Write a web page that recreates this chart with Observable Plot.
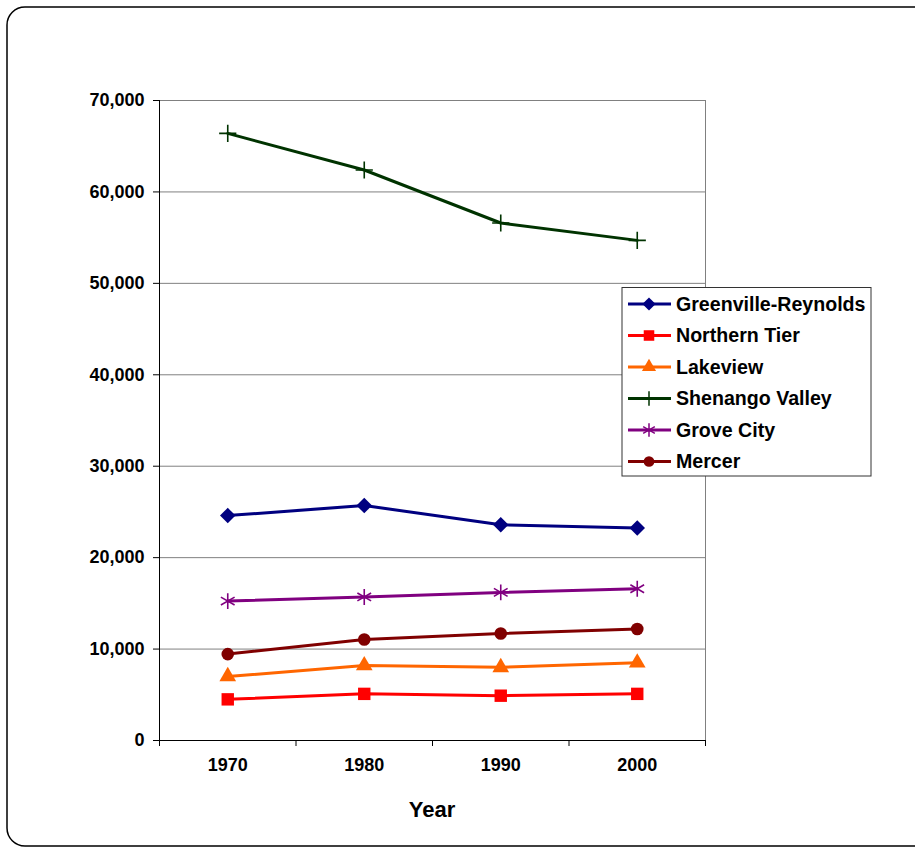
<!DOCTYPE html>
<html><head><meta charset="utf-8">
<script src="https://cdn.jsdelivr.net/npm/d3@7"></script>
<script src="https://cdn.jsdelivr.net/npm/@observablehq/plot@0.6"></script>
<style>body{margin:0;background:#fff;} svg{display:block}</style>
</head><body><div id="chart"></div>
<script>
const years = [1970, 1980, 1990, 2000];
const seriesNames = ["Greenville-Reynolds", "Northern Tier", "Lakeview", "Shenango Valley", "Grove City", "Mercer"];
const greenville = [24600, 25700, 23600, 23250];
const northernTier = [4500, 5100, 4900, 5100];
const lakeview = [7000, 8200, 8000, 8500];
const shenango = [66400, 62400, 56600, 54700];
const groveCity = [15250, 15700, 16200, 16600];
const mercer = [9450, 11050, 11700, 12200];
const yTicks = [0, 10000, 20000, 30000, 40000, 50000, 60000, 70000];
const xBoundaries = [1965, 1975, 1985, 1995, 2005];
const axisTitle = "Year";

const colors = ["#000080", "#FF0000", "#FF6600", "#003300", "#800080", "#800000"];
const symbols = ["diamond2", "square", "triangle", "plus", "asterisk", "circle"];
const radii = [7, 7, 6.2, 5.6, 7.5, 6.3];
const stroked = [false, false, false, true, true, false];
const allValues = [greenville, northernTier, lakeview, shenango, groveCity, mercer];

const font = "'Liberation Sans', Arial, sans-serif";

const marks = [
  Plot.gridY(yTicks, {stroke: "#808080", strokeOpacity: 1}),
  Plot.frame({stroke: "#808080"}),
  Plot.ruleX([1965], {stroke: "black"}),
  Plot.ruleY([0], {stroke: "black"}),
  Plot.axisY({ticks: yTicks, tickFormat: d3.format(","), tickSize: 6, tickPadding: 9, label: null}),
  Plot.axisX({ticks: years, tickFormat: d => String(d), tickSize: 0, tickPadding: 18, label: null}),
  Plot.axisX({ticks: xBoundaries, tickFormat: () => "", tickSize: 6, label: null})
];

allValues.forEach((vals, i) => {
  const data = years.map((y, j) => ({year: y, value: vals[j]}));
  marks.push(Plot.line(data, {x: "year", y: "value", stroke: colors[i], strokeWidth: 3}));
  marks.push(Plot.dot(data, stroked[i]
    ? {x: "year", y: "value", symbol: () => symbols[i], r: radii[i], stroke: colors[i], fill: "none", strokeWidth: 1.6}
    : {x: "year", y: "value", symbol: () => symbols[i], r: radii[i], fill: colors[i], stroke: "none"}));
});

const chart = Plot.plot({
  width: 915, height: 848,
  marginLeft: 159, marginRight: 210, marginTop: 100, marginBottom: 108,
  x: {type: "linear", domain: [1965, 2005]},
  y: {domain: [0, 70000]},
  symbol: {type: "identity"},
  style: {fontFamily: font, fontWeight: "bold", fontSize: "18px", color: "black", background: "white"},
  marks
});

const svg = d3.select(chart);
// outer rounded border
svg.insert("rect", ":first-child")
  .attr("x", 7).attr("y", 7).attr("width", 935).attr("height", 839)
  .attr("rx", 18).attr("fill", "white").attr("stroke", "black").attr("stroke-width", 1.5);

// axis title
svg.append("text").attr("x", 432).attr("y", 817).attr("text-anchor", "middle")
  .attr("font-size", 22).attr("font-weight", "bold").attr("font-family", font).attr("fill", "black")
  .text(axisTitle);

// legend
const lg = svg.append("g").attr("text-anchor", "start");
lg.append("rect").attr("x", 622).attr("y", 287.5).attr("width", 249).attr("height", 188.5)
  .attr("fill", "white").attr("stroke", "#333").attr("stroke-width", 1);
const symMap = {diamond2: d3.symbolDiamond2, square: d3.symbolSquare, triangle: d3.symbolTriangle,
  plus: d3.symbolPlus, asterisk: d3.symbolAsterisk, circle: d3.symbolCircle};
seriesNames.forEach((name, i) => {
  const cy = 304 + i * 31.5;
  lg.append("line").attr("x1", 628).attr("x2", 671).attr("y1", cy).attr("y2", cy)
    .attr("stroke", colors[i]).attr("stroke-width", 3);
  const r = radii[i] * 0.85;
  const p = d3.symbol(symMap[symbols[i]], Math.PI * r * r)();
  const s = lg.append("path").attr("d", p).attr("transform", `translate(649,${cy})`);
  if (stroked[i]) s.attr("fill", "none").attr("stroke", colors[i]).attr("stroke-width", 1.5);
  else s.attr("fill", colors[i]);
  lg.append("text").attr("x", 676).attr("y", cy).attr("dy", "0.35em").attr("text-anchor", "start")
    .attr("font-size", 19.6).attr("font-weight", "bold").attr("font-family", font).attr("fill", "black")
    .text(name);
});

document.getElementById("chart").appendChild(chart);
</script>
</body></html>
